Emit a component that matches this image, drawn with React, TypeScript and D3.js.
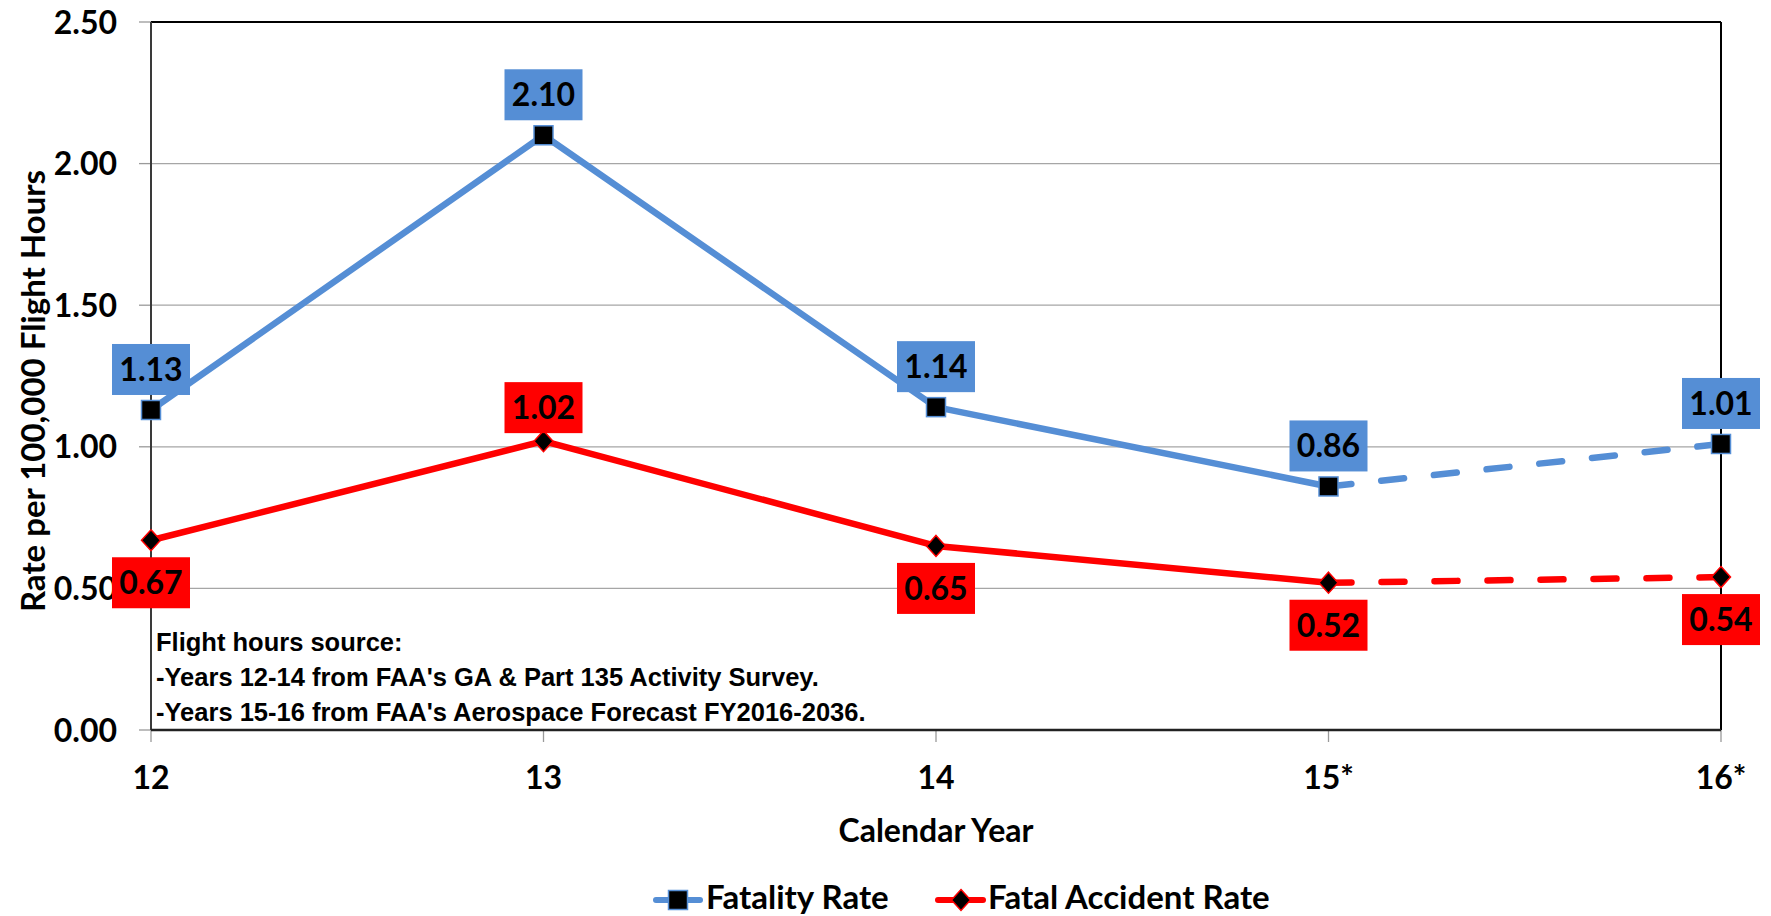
import { useMemo } from 'react';
import * as d3 from 'd3';

// chart values
const years = ['12', '13', '14', '15*', '16*'];
const fatalityRate = [1.13, 2.1, 1.14, 0.86, 1.01];
const fatalAccidentRate = [0.67, 1.02, 0.65, 0.52, 0.54];
const yTicks = [0, 0.5, 1.0, 1.5, 2.0, 2.5];
// which side of the point the red label sits on
const accidentLabelSide = ['below', 'above', 'below', 'below', 'below'];
const noteLines = [
  'Flight hours source:',
  "-Years 12-14 from FAA's GA & Part 135 Activity Survey.",
  "-Years 15-16 from FAA's Aerospace Forecast FY2016-2036.",
];
// index where the projected (dashed) part begins
const projectedFrom = 3;

const BLUE = '#558ED5';
const RED = '#FF0000';
const FONT = 'Lato, "Open Sans", sans-serif';

export default function App() {
  const width = 1771;
  const height = 916;
  const marginLeft = 151;
  const marginRight = 50;
  const marginTop = 22;
  const plotBottom = 730;

  const x = useMemo(() => d3.scalePoint<string>()
    .domain(years)
    .range([marginLeft, width - marginRight]), []);

  const y = useMemo(() => d3.scaleLinear()
    .domain([0, 2.5])
    .range([plotBottom, marginTop]), []);

  const fmt = d3.format('.2f');

  // split a series into the solid (actual) and dashed (projected) part
  function segments(values: number[]) {
    const solidLine = d3.line<number>()
      .x((d, i) => x(years[i])!)
      .y(d => y(d));
    const dashedLine = d3.line<number>()
      .x((d, i) => x(years[i + projectedFrom])!)
      .y(d => y(d));
    return [solidLine(values.slice(0, projectedFrom + 1))!, dashedLine(values.slice(projectedFrom))!];
  }

  const [blueSolid, blueDashed] = segments(fatalityRate);
  const [redSolid, redDashed] = segments(fatalAccidentRate);

  const boxW = 78;
  const boxH = 51;
  const left = x.range()[0];
  const right = x.range()[1];

  const square = (cx: number, cy: number, key: string) => (
    <rect key={key} x={cx - 9.5} y={cy - 9.5} width={19} height={19}
      fill='black' stroke={BLUE} strokeWidth={1.5} />
  );
  const diamond = (cx: number, cy: number, key: string) => (
    <path key={key} d={`M${cx},${cy - 10.5}L${cx + 9.5},${cy}L${cx},${cy + 10.5}L${cx - 9.5},${cy}Z`}
      fill='black' stroke={RED} strokeWidth={1.5} />
  );

  const label = (cx: number, top: number, fill: string, text: string, key: string) => (
    <g key={key}>
      <rect x={cx - boxW / 2} y={top} width={boxW} height={boxH} fill={fill} />
      <text x={cx} y={top + boxH / 2} dy='0.36em' textAnchor='middle'
        fontFamily={FONT} fontWeight='bold' fontSize={32} fill='black'>{text}</text>
    </g>
  );

  return (
    <svg width={width} height={height}
      style={{ position: 'absolute', left: 0, top: 0, display: 'block', background: 'white' }}>
      {/* grid lines */}
      {yTicks.filter(t => t > 0 && t < 2.5).map(t => (
        <line key={'g' + t} x1={left} x2={right} y1={y(t)} y2={y(t)} stroke='#A6A6A6' strokeWidth={1.3} />
      ))}
      {/* y ticks + labels */}
      {yTicks.map(t => (
        <g key={'yt' + t}>
          <line x1={left - 12} x2={left} y1={y(t)} y2={y(t)} stroke='#9A9A9A' strokeWidth={1.3} />
          <text x={117} y={y(t)} dy='0.36em' textAnchor='end'
            fontFamily={FONT} fontWeight='bold' fontSize={32}>{fmt(t)}</text>
        </g>
      ))}
      {/* x ticks + labels */}
      {years.map(yr => (
        <g key={'xt' + yr}>
          <line x1={x(yr)} x2={x(yr)} y1={plotBottom} y2={plotBottom + 12} stroke='#9A9A9A' strokeWidth={1.3} />
          <text x={x(yr)} y={789} textAnchor='middle'
            fontFamily={FONT} fontWeight='bold' fontSize={32}>{yr}</text>
        </g>
      ))}
      {/* frame */}
      <line x1={left} x2={right} y1={marginTop} y2={marginTop} stroke='black' strokeWidth={2.2} />
      <line x1={right} x2={right} y1={marginTop} y2={plotBottom} stroke='black' strokeWidth={2} />
      <line x1={left} x2={left} y1={marginTop} y2={plotBottom} stroke='#3A3A3A' strokeWidth={2} />
      <line x1={left} x2={right} y1={plotBottom} y2={plotBottom} stroke='#222' strokeWidth={2.4} />

      {/* note text */}
      {noteLines.map((t, i) => (
        <text key={'n' + i} x={156} y={651 + i * 35}
          fontFamily='"Liberation Sans", Arial, sans-serif' fontWeight='bold' fontSize={25.5}>{t}</text>
      ))}

      {/* series lines */}
      <path d={blueSolid} fill='none' stroke={BLUE} strokeWidth={6.5} strokeLinejoin='round' />
      <path d={blueDashed} fill='none' stroke={BLUE} strokeWidth={6.5} strokeLinecap='round' strokeDasharray='23 30' />
      <path d={redSolid} fill='none' stroke={RED} strokeWidth={6.5} strokeLinejoin='round' />
      <path d={redDashed} fill='none' stroke={RED} strokeWidth={6.5} strokeLinecap='round' strokeDasharray='23 30' />

      {/* markers */}
      {fatalityRate.map((v, i) => square(x(years[i])!, y(v), 'bm' + i))}
      {fatalAccidentRate.map((v, i) => diamond(x(years[i])!, y(v), 'rm' + i))}

      {/* data labels */}
      {fatalityRate.map((v, i) => label(x(years[i])!, y(v) - 15 - boxH, BLUE, fmt(v), 'bl' + i))}
      {fatalAccidentRate.map((v, i) => {
        const cy = y(v);
        const top = accidentLabelSide[i] === 'above' ? cy - 8 - boxH : cy + 17;
        return label(x(years[i])!, top, RED, fmt(v), 'rl' + i);
      })}

      {/* axis titles */}
      <text transform={`translate(45,391) rotate(-90)`} textAnchor='middle'
        fontFamily={FONT} fontWeight='bold' fontSize={33}>Rate per 100,000 Flight Hours</text>
      <text x={(left + right) / 2} y={842} textAnchor='middle'
        fontFamily={FONT} fontWeight='bold' fontSize={32}>Calendar Year</text>

      {/* legend */}
      <g>
        <line x1={656} x2={700} y1={900} y2={900} stroke={BLUE} strokeWidth={6} strokeLinecap='round' />
        {square(678, 900, 'lg1')}
        <text x={706} y={909} fontFamily={FONT} fontWeight='bold' fontSize={33}>Fatality Rate</text>
        <line x1={938} x2={983} y1={900} y2={900} stroke={RED} strokeWidth={6} strokeLinecap='round' />
        {diamond(961, 900, 'lg2')}
        <text x={988} y={909} fontFamily={FONT} fontWeight='bold' fontSize={33}>Fatal Accident Rate</text>
      </g>
    </svg>
  );
}
